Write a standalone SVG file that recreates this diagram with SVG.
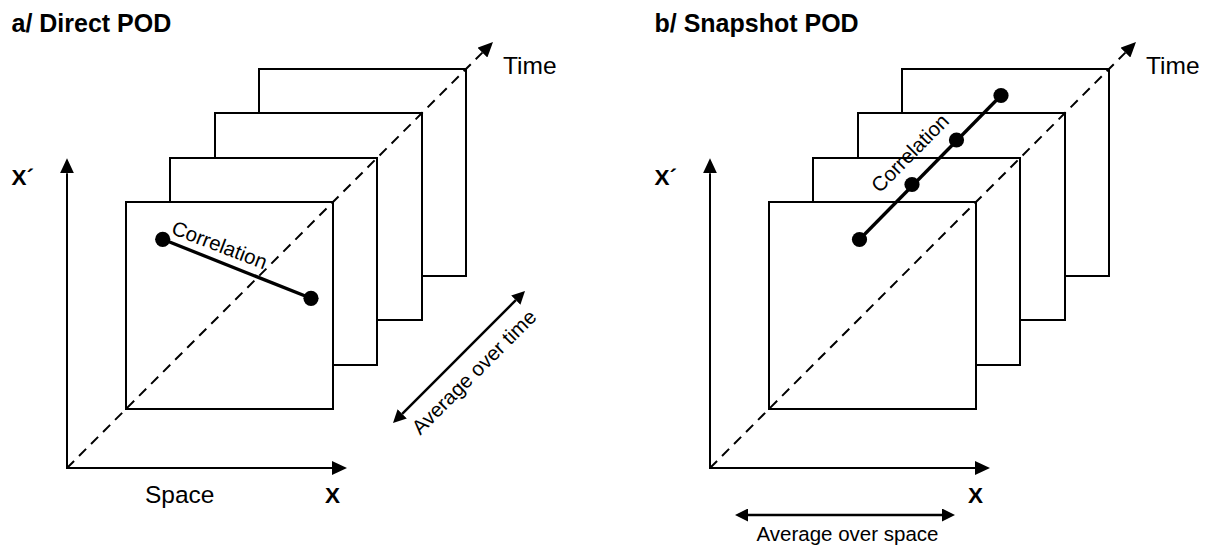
<svg xmlns="http://www.w3.org/2000/svg" width="1210" height="546" viewBox="0 0 1210 546">
<style>
.frame{fill:#fff;stroke:#000;stroke-width:2}
.axis{stroke:#000;stroke-width:2;fill:none}
.dash{stroke:#000;stroke-width:2;stroke-dasharray:10 7;fill:none}
.corr{stroke:#000;stroke-width:3.3;fill:none}
.dot{fill:#000}
.avg{stroke:#000;stroke-width:2.5;fill:none}
.lbl{font-family:"Liberation Sans",Arial,Helvetica,sans-serif;fill:#000}
.title{font-size:25px;font-weight:bold}
.axl{font-size:22.5px;font-weight:bold}
.big{font-size:24.5px}
.small{font-size:20.5px}
</style>
<defs>
<marker id="ah" viewBox="0 0 15 14" refX="0" refY="7" markerWidth="15" markerHeight="14" markerUnits="userSpaceOnUse" orient="auto"><path d="M0,0 L15,7 L0,14 z" fill="#000"/></marker>
<marker id="ah2" viewBox="0 0 13 13" refX="0" refY="6.5" markerWidth="13" markerHeight="13" markerUnits="userSpaceOnUse" orient="auto-start-reverse"><path d="M0,0 L13,6.5 L0,13 z" fill="#000"/></marker>
</defs>
<rect width="1210" height="546" fill="#fff"/>

<!-- Panel a -->
<g id="panel-a">
  <text class="lbl title" x="11.5" y="31.7">a/ Direct POD</text>
  <g id="a-frames">
    <rect id="a-frame4" class="frame" x="259" y="69" width="207" height="207"/>
    <rect id="a-frame3" class="frame" x="215" y="113" width="207" height="207"/>
    <rect id="a-frame2" class="frame" x="170" y="158" width="207" height="207"/>
    <rect id="a-frame1" class="frame" x="126" y="202" width="207" height="207"/>
  </g>
  <g id="a-connectors">
    <line class="dash" x1="67" y1="468" x2="482.4" y2="52.6" marker-end="url(#ah)"/>
    <line class="axis" x1="67" y1="469" x2="67" y2="173.3" marker-end="url(#ah)"/>
    <line class="axis" x1="66" y1="468" x2="332" y2="468" marker-end="url(#ah)"/>
    <line class="corr" x1="162.7" y1="239.3" x2="311" y2="298.3"/>
    <line class="avg" x1="402.2" y1="413.8" x2="515.8" y2="300.2" marker-start="url(#ah2)" marker-end="url(#ah2)"/>
  </g>
  <g id="a-dots">
    <circle class="dot" cx="162.7" cy="239.3" r="7.6"/>
    <circle class="dot" cx="311" cy="298.3" r="7.6"/>
  </g>
  <g id="a-labels">
    <text class="lbl axl" x="11.5" y="185">X´</text>
    <text class="lbl big" x="503" y="74">Time</text>
    <text class="lbl big" x="145" y="503.3">Space</text>
    <text class="lbl axl" x="325" y="503.3">X</text>
    <text class="lbl small" text-anchor="middle" transform="translate(217,251.5) rotate(21)">Correlation</text>
    <text class="lbl small" text-anchor="middle" transform="translate(479,377) rotate(-45)">Average over time</text>
  </g>
</g>

<!-- Panel b -->
<g id="panel-b">
  <text class="lbl title" x="654.5" y="31.7">b/ Snapshot POD</text>
  <g id="b-frames">
    <rect id="b-frame4" class="frame" x="902" y="69" width="207" height="207"/>
    <rect id="b-frame3" class="frame" x="858" y="113" width="207" height="207"/>
    <rect id="b-frame2" class="frame" x="813" y="158" width="207" height="207"/>
    <rect id="b-frame1" class="frame" x="769" y="202" width="207" height="207"/>
  </g>
  <g id="b-connectors">
    <line class="dash" x1="710" y1="468" x2="1125.4" y2="52.6" marker-end="url(#ah)"/>
    <line class="axis" x1="710" y1="469" x2="710" y2="173.3" marker-end="url(#ah)"/>
    <line class="axis" x1="709" y1="468" x2="975" y2="468" marker-end="url(#ah)"/>
    <line class="corr" x1="859.5" y1="239.5" x2="1001" y2="95.5"/>
    <line class="avg" x1="748" y1="515" x2="942" y2="515" marker-start="url(#ah2)" marker-end="url(#ah2)"/>
  </g>
  <g id="b-dots">
    <circle class="dot" cx="859.5" cy="239.5" r="7.6"/>
    <circle class="dot" cx="912" cy="184.5" r="7.6"/>
    <circle class="dot" cx="956.5" cy="140" r="7.6"/>
    <circle class="dot" cx="1001" cy="95.5" r="7.6"/>
  </g>
  <g id="b-labels">
    <text class="lbl axl" x="654.5" y="185">X´</text>
    <text class="lbl big" x="1146" y="74">Time</text>
    <text class="lbl axl" x="968" y="503.3">X</text>
    <text class="lbl small" text-anchor="middle" transform="translate(915,158) rotate(-45.5)">Correlation</text>
    <text class="lbl small" text-anchor="middle" x="847.5" y="541">Average over space</text>
  </g>
</g>
</svg>
